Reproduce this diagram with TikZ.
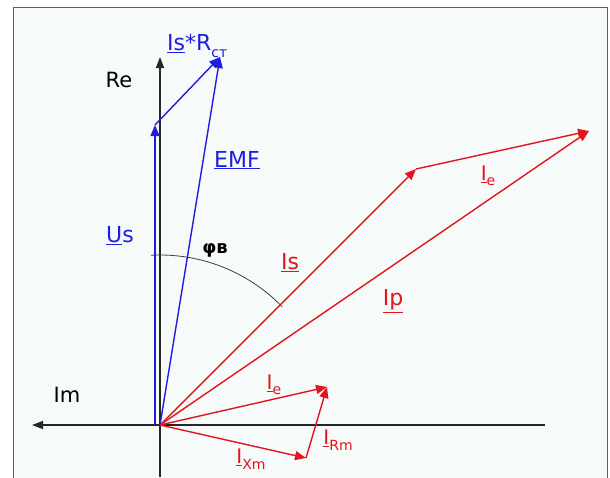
\documentclass[tikz,border=0pt]{standalone}
\usepackage{fontspec}
\setmainfont{DejaVu Sans}
\usetikzlibrary{arrows.meta}
\definecolor{bgc}{HTML}{F6FAF8}
\definecolor{vblue}{HTML}{1E1EE0}
\definecolor{vred}{HTML}{E4141E}
\definecolor{framec}{HTML}{606060}
\newcommand\lowsub[1]{\raisebox{-0.28em}{\fontsize{14}{14}\selectfont #1}}
\tikzset{
  axis/.style={line width=1.4pt, black!85, -{Triangle[length=11pt,width=8pt]}},
  bvec/.style={line width=1.4pt, vblue, -{Triangle[length=11pt,width=9pt]}},
  rvec/.style={line width=1.4pt, vred, -{Triangle[length=11pt,width=9pt]}},
  blab/.style={text=vblue, font=\fontsize{22}{24}\selectfont, inner sep=0pt},
  rlab/.style={text=vred, font=\fontsize{22}{24}\selectfont, inner sep=0pt},
  rsml/.style={text=vred, font=\fontsize{20}{22}\selectfont, inner sep=0pt},
  klab/.style={text=black, font=\fontsize{21}{23}\selectfont, inner sep=0pt},
}
\begin{document}
\begin{tikzpicture}[x=1pt,y=-1pt]
\useasboundingbox (0,0) rectangle (610,477);
\fill[white] (0,0) rectangle (610,477);
\filldraw[fill=bgc, draw=framec, line width=1pt] (13,480) -- (13,7) -- (607,7) -- (607,480);
% coordinates
\coordinate (O) at (160,425);
\coordinate (Us) at (155,125);
\coordinate (U0) at (155,425);
\coordinate (E) at (220,57);
\coordinate (IsT) at (416,169);
\coordinate (IpT) at (589,131);
\coordinate (IeT) at (327,387);
\coordinate (IxT) at (306,458);
\coordinate (Ax1) at (545,425);
\coordinate (Ax2) at (32,425);
\coordinate (Ay1) at (160,477);
\coordinate (Ay2) at (160,57);
% axes
\draw[axis] (Ax1) -- (Ax2);
\draw[axis] (Ay1) -- (Ay2);
% angle arc
\draw[black!75, line width=0.8pt] (O) ++(-93:170) arc[start angle=-93, end angle=-44, radius=170];
% blue vectors
\draw[bvec] (U0) -- (Us);
\draw[bvec] (Us) -- (E);
\draw[bvec] (O) -- (E);
% red vectors
\draw[rvec] (O) -- (IsT);
\draw[rvec] (IsT) -- (IpT);
\draw[rvec] (O) -- (IpT);
\draw[rvec] (O) -- (IxT);
\draw[rvec] (IxT) -- (IeT);
\draw[rvec] (O) -- (IeT);
% labels
\node[klab] (re) at (119,80) {Re};
\node[klab] (im) at (67,395) {Im};
\node[blab, anchor=west] (isr) at (167,46) {\underline{Is}*R\lowsub{ст}};
\node[blab] (emf) at (237,160) {\underline{EMF}};
\node[blab] (us) at (120,236) {\underline{U}s};
\node[text=black, font=\fontsize{18}{20}\selectfont\bfseries, inner sep=0pt] (phi) at (215,250) {φв};
\node[rlab] (is) at (290,263) {\underline{Is}};
\node[rlab] (ip) at (393,301) {\underline{Ip}};
\node[rsml] (ie1) at (488,176) {\underline{I}\lowsub{e}};
\node[rsml] (ie2) at (274,385) {\underline{I}\lowsub{e}};
\node[rsml] (irm) at (338,440) {\underline{I}\lowsub{Rm}};
\node[rsml] (ixm) at (251,459) {\underline{I}\lowsub{Xm}};
\end{tikzpicture}
\end{document}
